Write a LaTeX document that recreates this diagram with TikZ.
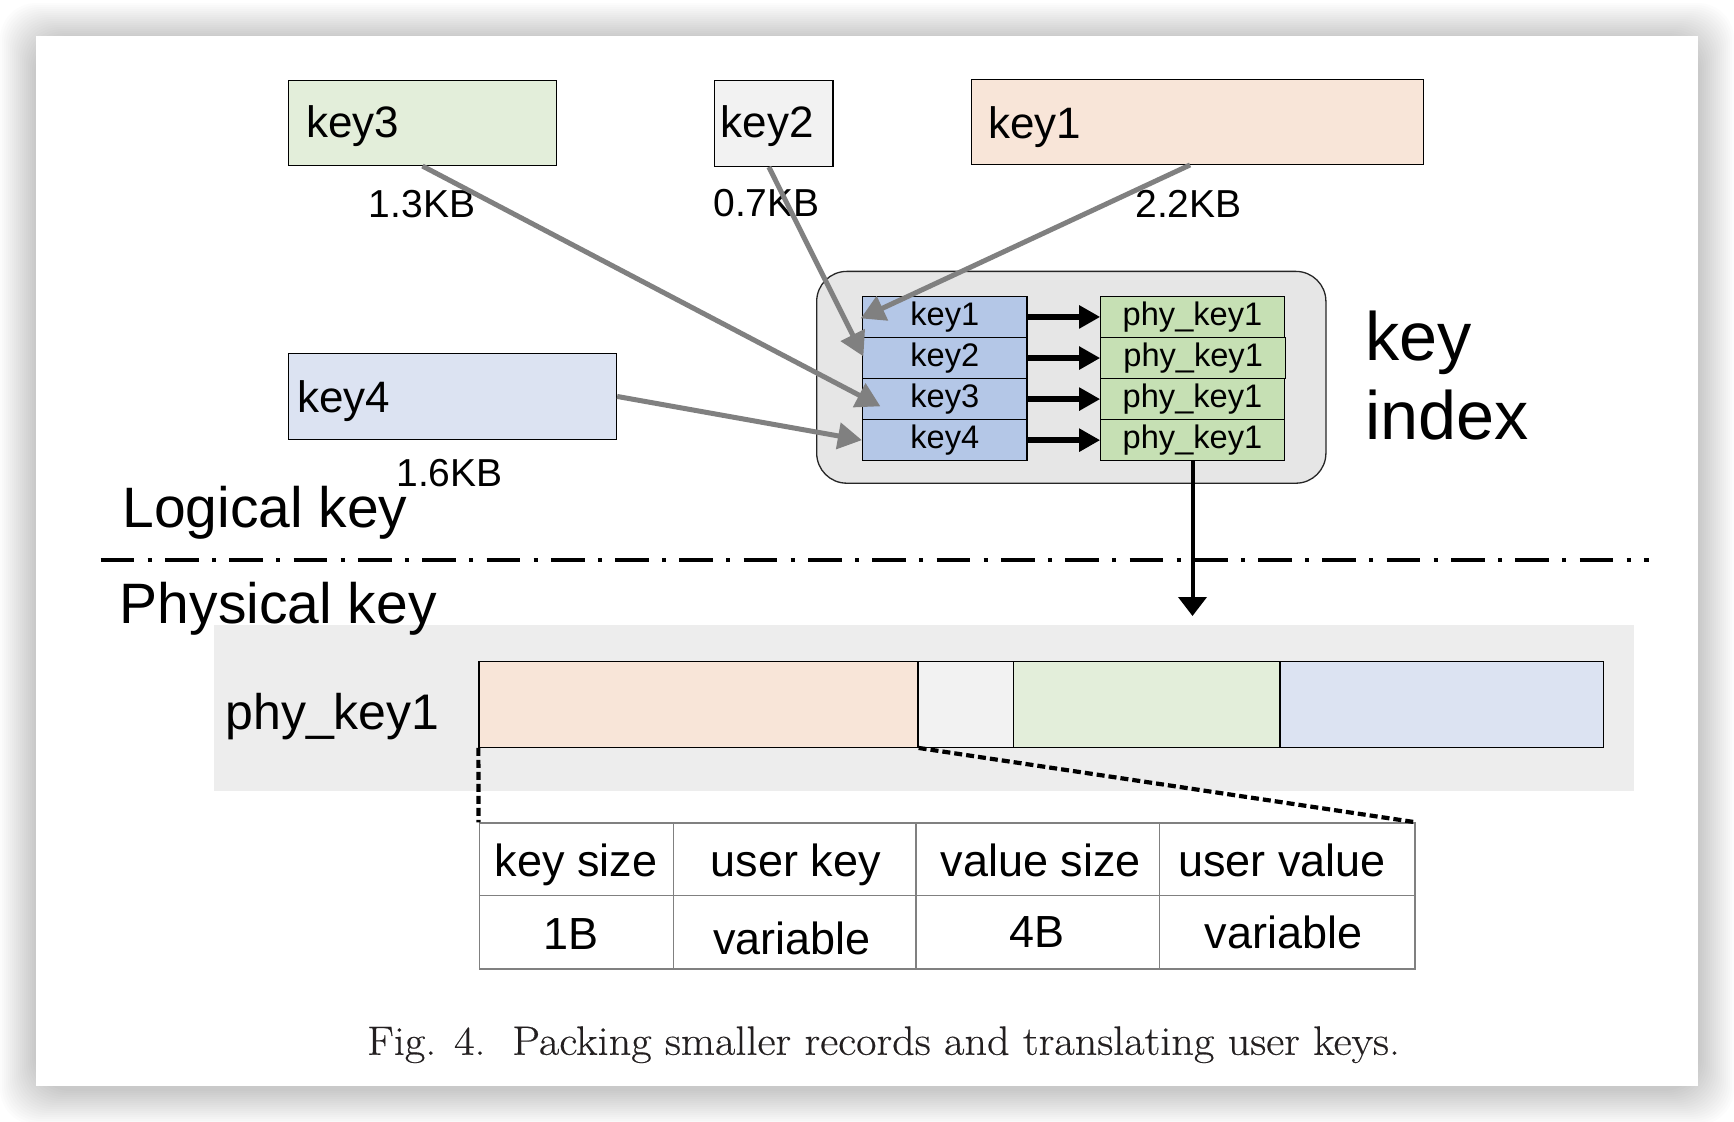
\documentclass[tikz,border=0pt]{standalone}
\usepackage{fontspec}
\setmainfont{Liberation Sans}
\newfontfamily\capfont{Latin Modern Roman}[FakeStretch=1.08,FakeBold=0.4]
\usetikzlibrary{arrows.meta,fit,calc}
\definecolor{cpeach}{HTML}{F8E5D8}
\definecolor{cgraybox}{HTML}{F2F2F2}
\definecolor{cgreenbox}{HTML}{E3EEDA}
\definecolor{cbluebox}{HTML}{DCE3F2}
\definecolor{cidx}{HTML}{E6E6E6}
\definecolor{ckeycell}{HTML}{B4C7E7}
\definecolor{cphycell}{HTML}{C6E0B4}
\definecolor{cband}{HTML}{EDEDED}
\definecolor{carrow}{HTML}{808080}
\definecolor{ctable}{HTML}{808080}
\definecolor{ccap}{HTML}{231F20}
\begin{document}
\begin{tikzpicture}[x=0.5pt,y=-0.5pt,
  keybox/.style={draw=black, line width=0.65pt, inner sep=0pt},
  boxtext/.style={anchor=base west, inner sep=0pt, font=\fontsize{22}{26}\selectfont},
  sizetext/.style={anchor=base west, inner sep=0pt, font=\fontsize{19.5}{23}\selectfont},
  bigtext/.style={anchor=base west, inner sep=0pt, font=\fontsize{28.5}{33}\selectfont},
  cellbase/.style={draw=black, line width=0.6pt, inner sep=0pt, minimum height=20.55pt, font=\fontsize{16.3}{18}\selectfont, text height=11.7pt, text depth=3.4pt},
  kcell/.style={cellbase, fill=ckeycell, minimum width=82.25pt},
  pcell/.style={cellbase, fill=cphycell, minimum width=91.7pt},
  grayarrow/.style={draw=carrow, line width=2.5pt, -{Triangle[length=12pt,width=13pt]}},
  idxarrow/.style={draw=black, line width=2.8pt, -{Triangle[length=10.5pt,width=11pt]}},
  downarrow/.style={draw=black, line width=2pt, -{Triangle[length=9.5pt,width=14pt]}},
  zoomline/.style={draw=black, line width=2.1pt, dash pattern=on 4pt off 2pt},
  tabtext/.style={anchor=base, inner sep=0pt, font=\fontsize{22.5}{26}\selectfont},
  seg/.style={draw=black, line width=0.65pt, inner sep=0pt},
]
\useasboundingbox (0,0) rectangle (1734,1122);
% background and shadow
\fill[white] (0,0) rectangle (1734,1122);
\foreach \i in {1,...,18}{
  \fill[black, opacity=0.010, rounded corners=18pt] (36-2*\i, 39-2*\i) rectangle (1698+2*\i, 1089+2*\i);
}
\fill[white] (36,36) rectangle (1698,1086);

% logical keys
\node[keybox, fill=cgreenbox, fit={(288.6,80.4) (556.3,165.4)}] (k3) {};
\node[boxtext] (k3t) at (306,137.5) {key3};
\node[keybox, fill=cgraybox, fit={(714.7,80.4) (833,166.4)}] (k2) {};
\node[boxtext] (k2t) at (720.5,137.5) {key2};
\node[keybox, fill=cpeach, fit={(971.5,79.3) (1423.6,164.3)}] (k1) {};
\node[boxtext] (k1t) at (988,138.6) {key1};
\node[keybox, fill=cbluebox, fit={(288.2,353.6) (616.5,439.3)}] (k4) {};
\node[boxtext] (k4t) at (297,412.5) {key4};

\node[sizetext] (s3) at (368.5,218) {1.3KB};
\node[sizetext] (s2) at (713,216.3) {0.7KB};
\node[sizetext] (s1) at (1135,218) {2.2KB};
\node[sizetext] (s4) at (396,487) {1.6KB};

% key index
\node[draw=black!85, line width=0.65pt, fill=cidx, rounded corners=15pt, inner sep=0pt, fit={(816.7,271.4) (1325.9,483.2)}] (idx) {};
\node[kcell] (c1) at (944.75,316.95) {key1};
\node[kcell] (c2) at (944.75,358.05) {key2};
\node[kcell] (c3) at (944.75,399.1) {key3};
\node[kcell] (c4) at (944.75,440.15) {key4};
\node[pcell] (p1) at (1192.5,316.95) {phy\_key1};
\node[pcell, minimum width=92.35pt] (p2) at (1193.15,358.05) {phy\_key1};
\node[pcell] (p3) at (1192.5,399.1) {phy\_key1};
\node[pcell] (p4) at (1192.5,440.15) {phy\_key1};
\draw[idxarrow] (c1.east) -- (p1.west);
\draw[idxarrow] (c2.east) -- (p2.west);
\draw[idxarrow] (c3.east) -- (p3.west);
\draw[idxarrow] (c4.east) -- (p4.west);

\node[anchor=base west, inner sep=0pt, font=\fontsize{34.2}{39}\selectfont] (ki1) at (1365,360.7) {key};
\node[anchor=base west, inner sep=0pt, font=\fontsize{34.2}{39}\selectfont] (ki2) at (1365,440) {index};

% dash-dot separator
\coordinate (sepl) at (100.7,560.3);
\coordinate (sepr) at (1649,560.3);
\draw[line width=2.15pt, dash pattern=on 16.85pt off 6.65pt on 2pt off 6.65pt] (sepl) -- (sepr);

% physical key band
\fill[cband] (213.5,625) rectangle (1634,790.7);

% labels
\node[bigtext] (lk) at (122,528) {Logical key};
\node[bigtext] (pk) at (119.5,623) {Physical key};

% down arrow
\coordinate (downend) at (1192.5,616);
\draw[downarrow] (p4.south) -- (downend);

\node[anchor=base west, inner sep=0pt, font=\fontsize{25}{30}\selectfont] (pkl) at (225,729.5) {phy\_key1};
\node[seg, fill=cpeach, fit={(479,661.3) (918,747.3)}] (b1) {};
\node[seg, fill=cgraybox, fit={(918,661.3) (1013.3,747.3)}] (b2) {};
\node[seg, fill=cgreenbox, fit={(1013.3,661.3) (1279.9,747.3)}] (b3) {};
\node[seg, fill=cbluebox, fit={(1279.9,661.3) (1603.7,747.3)}] (b4) {};

% record layout table
\node[draw=ctable, line width=0.75pt, inner sep=0pt, fit={(479.3,823) (1414.8,969)}] (tbl) {};
\draw[ctable, line width=0.75pt] (479.3,895.5) -- (1414.8,895.5);
\draw[ctable, line width=0.75pt] (673.3,823) -- (673.3,969);
\draw[ctable, line width=0.75pt] (916,823) -- (916,969);
\draw[ctable, line width=0.75pt] (1159.3,823) -- (1159.3,969);
\node[tabtext] (t11) at (576,876.6) {key size};
\node[tabtext] (t12) at (795.6,876.6) {user key};
\node[tabtext] (t13) at (1040.8,876.6) {value size};
\node[tabtext] (t14) at (1282,876.6) {user value};
\node[tabtext] (t21) at (570.6,949.4) {1B};
\node[tabtext] (t22) at (792,954.4) {variable};
\node[tabtext] (t23) at (1036.8,947.7) {4B};
\node[tabtext] (t24) at (1283.4,948.9) {variable};

\draw[zoomline] (b1.south west) -- (tbl.north west);
\draw[zoomline] (b1.south east) -- (tbl.north east);

% gray arrows
\draw[grayarrow] (k3.south) -- ([shift={(18.5,28.4)}]c3.north west);
\draw[grayarrow] ([shift={(-5,0)}]k2.south) -- ([shift={(1.5,19.5)}]c2.north west);
\draw[grayarrow] ([shift={(-7.5,0)}]k1.south) -- ([shift={(-1.2,22.6)}]c1.north west);
\draw[grayarrow] (k4.east) -- (c4.west);

% caption
\node[anchor=base, inner sep=0pt, text=ccap, font=\capfont\fontsize{20.5}{24}\selectfont] (cap) at (883.6,1054.8) {Fig. 4.\ \ Packing smaller records and translating user keys.};
\end{tikzpicture}
\end{document}
